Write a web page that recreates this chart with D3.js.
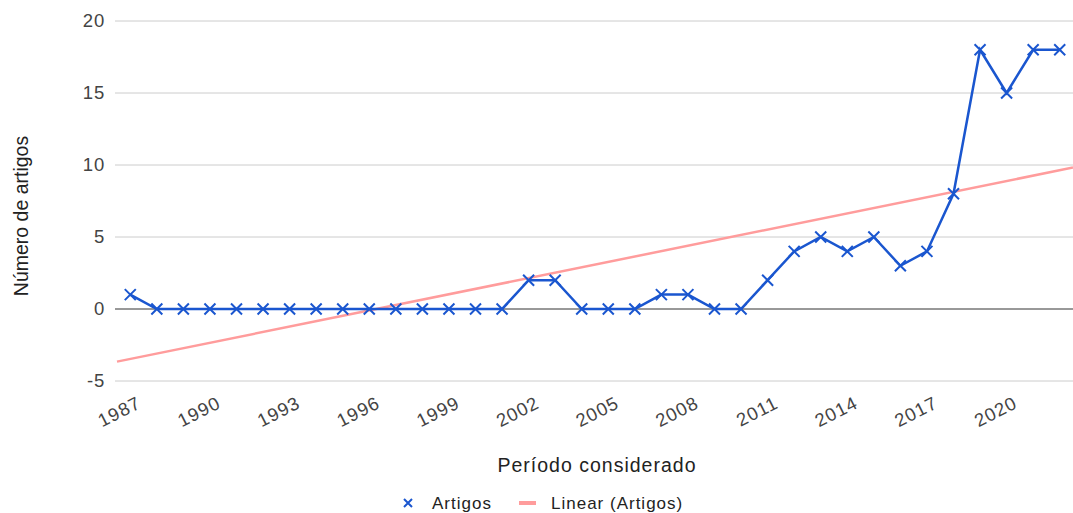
<!DOCTYPE html>
<html>
<head>
<meta charset="utf-8">
<script src="https://cdn.jsdelivr.net/npm/d3@7"></script>
<style>
  body { margin: 0; background: #fff; }
  text { font-family: "Liberation Sans", Arial, sans-serif; fill: #222; }
</style>
</head>
<body>
<div id="chart"></div>
<script>
// data
var years = d3.range(1987, 2023);
var artigos = [1, 0, 0, 0, 0, 0, 0, 0, 0, 0, 0, 0, 0, 0, 0, 2, 2, 0, 0, 0,
               1, 1, 0, 0, 2, 4, 5, 4, 5, 3, 4, 8, 18, 15, 18, 18];
var yTicks = [-5, 0, 5, 10, 15, 20];
var xTickYears = d3.range(1987, 2023, 3);

var W = 1073, H = 513;
var margin = { top: 21, right: 0, bottom: 132, left: 117 };

var svg = d3.select("#chart").append("svg")
  .attr("width", W).attr("height", H);

var x = d3.scaleBand()
  .domain(years)
  .range([margin.left, W - margin.right]);

var y = d3.scaleLinear()
  .domain([-5, 20])
  .range([H - margin.bottom, margin.top]);

// grid lines
svg.append("g").selectAll("line")
  .data(yTicks)
  .enter().append("line")
  .attr("x1", margin.left - 2).attr("x2", W)
  .attr("y1", function (d) { return y(d); })
  .attr("y2", function (d) { return y(d); })
  .attr("stroke", function (d) { return d === 0 ? "#333" : "#ccc"; })
  .attr("stroke-width", 1);

// y tick labels
svg.append("g").selectAll("text")
  .data(yTicks)
  .enter().append("text")
  .attr("x", 105)
  .attr("y", function (d) { return y(d); })
  .attr("dy", "0.35em")
  .attr("text-anchor", "end")
  .style("font-size", "18.5px")
  .style("letter-spacing", "0.8px")
  .style("fill", "#444")
  .text(function (d) { return d; });

// x tick labels (rotated)
svg.append("g").selectAll("text")
  .data(xTickYears)
  .enter().append("text")
  .attr("transform", function (d) {
    return "translate(" + (x(d) + x.bandwidth() / 2 + 12) + "," + 407 + ") rotate(-27)";
  })
  .attr("text-anchor", "end")
  .style("font-size", "18.5px")
  .style("letter-spacing", "1px")
  .style("fill", "#444")
  .text(function (d) { return d; });

// axis titles
svg.append("text")
  .attr("x", 597).attr("y", 472)
  .attr("text-anchor", "middle")
  .style("font-size", "19.5px")
  .style("letter-spacing", "1px")
  .text("Período considerado");

svg.append("text")
  .attr("transform", "translate(28," + 216 + ") rotate(-90)")
  .attr("text-anchor", "middle")
  .style("font-size", "19.5px")
  .text("Número de artigos");

// linear trend (least squares on the series)
var idx = years.map(function (d, i) { return i; });
var mx = d3.mean(idx), my = d3.mean(artigos);
var slope = d3.sum(idx, function (i) { return (i - mx) * (artigos[i] - my); }) /
            d3.sum(idx, function (i) { return (i - mx) * (i - mx); });
var icpt = my - slope * mx;
var step = x.step();
var cx = function (i) { return x(years[0]) + x.bandwidth() / 2 + i * step; };
var i0 = (margin.left - cx(0)) / step, i1 = (W - cx(0)) / step;

svg.append("line")
  .attr("x1", cx(i0)).attr("y1", y(icpt + slope * i0))
  .attr("x2", cx(i1)).attr("y2", y(icpt + slope * i1))
  .attr("stroke", "#ff9c9c")
  .attr("stroke-width", 2.5);

// series line
var line = d3.line()
  .x(function (d, i) { return x(years[i]) + x.bandwidth() / 2; })
  .y(function (d) { return y(d); });

svg.append("path")
  .datum(artigos)
  .attr("fill", "none")
  .attr("stroke", "#1a56cf")
  .attr("stroke-width", 2.5)
  .attr("d", line);

// x markers
var mk = 5.5;
svg.append("g").selectAll("path")
  .data(artigos)
  .enter().append("path")
  .attr("d", function (d, i) {
    var px = x(years[i]) + x.bandwidth() / 2, py = y(d);
    return "M" + (px - mk) + "," + (py - mk) + "L" + (px + mk) + "," + (py + mk) +
           "M" + (px + mk) + "," + (py - mk) + "L" + (px - mk) + "," + (py + mk);
  })
  .attr("stroke", "#1a56cf")
  .attr("stroke-width", 2);

// legend
var lg = svg.append("g");
lg.append("path")
  .attr("d", "M404,499L412,507M412,499L404,507")
  .attr("stroke", "#1a56cf").attr("stroke-width", 2);
lg.append("text").attr("x", 432).attr("y", 503).attr("dy", "0.35em")
  .style("font-size", "17px").style("letter-spacing", "1px").text("Artigos");
lg.append("line")
  .attr("x1", 519).attr("x2", 536).attr("y1", 503).attr("y2", 503)
  .attr("stroke", "#ff9c9c").attr("stroke-width", 4);
lg.append("text").attr("x", 551).attr("y", 503).attr("dy", "0.35em")
  .style("font-size", "17px").style("letter-spacing", "1px").text("Linear (Artigos)");
</script>
</body>
</html>
